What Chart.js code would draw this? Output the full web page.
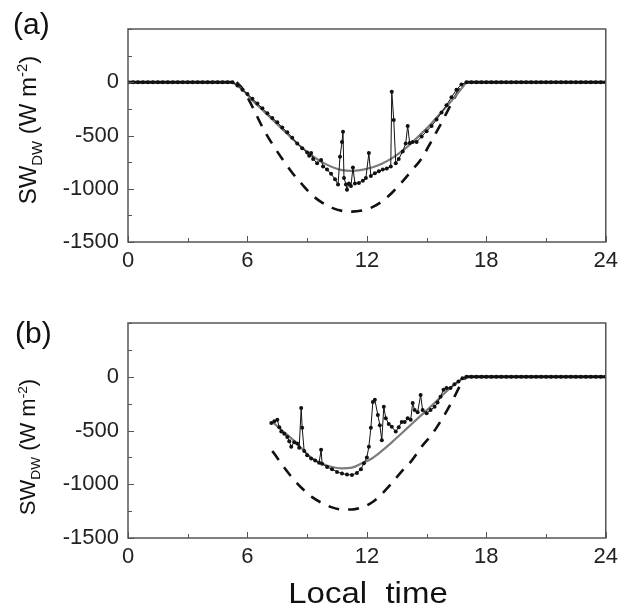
<!DOCTYPE html>
<html lang="en">
<head>
<meta charset="UTF-8">
<title>SW DW</title>
<script src="https://cdn.jsdelivr.net/npm/chart.js"></script>
<style>
  body { margin: 0; background: #fff; }
  #wrap { position: relative; width: 624px; height: 608px; font-family: "Liberation Sans", Arial, sans-serif; color: #111; }
  canvas { position: absolute; left: 0; }
  .panel { position: absolute; font-size: 30px; line-height: 30px; }
  .ytitle { position: absolute; left: 28px; line-height: 24px; white-space: nowrap;
            transform: translate(-50%, -50%) rotate(-90deg); }
  .ytitle sub, .ytitle sup { font-size: 0.62em; line-height: 0; }
  #xtitle { position: absolute; left: 368px; top: 578px; font-size: 30px; line-height: 30px; white-space: pre;
            transform: translateX(-50%) scaleX(1.1); }
</style>
</head>
<body>
<div id="wrap">
  <canvas id="chartA" width="624" height="292" style="top:0"></canvas>
  <canvas id="chartB" width="624" height="295" style="top:294px"></canvas>
  <div class="panel" style="left:13px;top:9px">(a)</div>
  <div class="panel" style="left:15px;top:318px">(b)</div>
  <div class="ytitle" style="top:130px;font-size:24px">SW<sub>DW</sub> (W m<sup>-2</sup>)</div>
  <div class="ytitle" style="top:447px;font-size:22px">SW<sub>DW</sub> (W m<sup>-2</sup>)</div>
  <div id="xtitle">Local  time</div>
</div>
<script>
// axis ticks
const xTicks = [0, 6, 12, 18, 24];
const yTicks = [0, -500, -1000, -1500];

// (a) measured
const measATime = [0,0.25,0.5,0.75,1,1.25,1.5,1.75,2,2.25,2.5,2.75,3,3.25,3.5,3.75,4,4.25,4.5,4.75,5,
  5.25,5.5,5.75,6,6.25,6.5,6.75,7,7.25,7.5,7.75,8,8.25,8.5,8.75,9,
  9.1,9.2,9.3,9.5,9.7,9.8,10,10.2,10.4,10.55,
  10.65,10.75,10.8,10.85,10.95,11,11.1,11.2,11.3,11.4,
  11.6,11.8,11.95,12.1,12.2,12.4,12.6,12.8,13,13.2,
  13.25,13.35,13.45,13.6,13.8,13.95,14.05,14.15,14.3,14.5,
  14.75,15,15.25,15.5,15.75,16,16.25,16.5,16.75,17,
  17.25,17.5,17.75,18,18.25,18.5,18.75,19,19.25,19.5,19.75,20,20.25,20.5,20.75,21,21.25,21.5,21.75,22,22.25,22.5,22.75,23,23.25,23.5,23.75,24];
const measAVal = [0,0,0,0,0,0,0,0,0,0,0,0,0,0,0,0,0,0,0,0,0,
  0,-30,-70,-110,-155,-200,-245,-290,-335,-375,-425,-470,-520,-575,-620,-660,
  -690,-665,-720,-760,-730,-790,-820,-860,-910,-960,
  -700,-560,-465,-900,-960,-1010,-950,-975,-800,-950,
  -945,-925,-900,-665,-880,-855,-835,-820,-810,-790,
  -90,-355,-760,-720,-650,-575,-410,-570,-560,-560,
  -510,-460,-410,-350,-285,-215,-140,-70,-20,0,
  0,0,0,0,0,0,0,0,0,0,0,0,0,0,0,0,0,0,0,0,0,0,0,0,0,0,0,0];

// (a) model (grey) and clear sky (dashed)
const modelATime = [5.25,5.75,6.25,6.75,7.25,7.75,8.25,8.75,9.25,9.75,10.25,10.75,11.25,11.75,12.25,12.75,13.25,13.75,14.25,14.75,15.25,15.75,16.25,16.75,17];
const modelAVal = [0,-70,-170,-260,-350,-440,-530,-615,-690,-750,-795,-825,-832,-822,-800,-765,-715,-650,-570,-480,-385,-280,-175,-60,0];
const clearATime = [5.45,5.75,6.25,6.75,7.25,7.75,8.25,8.75,9.25,9.75,10.25,10.75,11.25,11.75,12.25,12.75,13.25,13.75,14.25,14.75,15.25,15.75,16.25,16.75,17];
const clearAVal = [0,-60,-230,-420,-580,-720,-850,-960,-1060,-1130,-1180,-1208,-1215,-1205,-1175,-1120,-1040,-940,-830,-715,-550,-380,-200,-40,0];

// (b) measured
const measBTime = [7.2,7.35,7.5,7.6,7.7,7.85,8,8.1,8.2,8.35,
  8.5,8.6,8.7,8.75,8.85,9,9.2,9.4,9.6,9.7,
  9.75,10,10.25,10.5,10.75,11,11.25,11.5,11.7,11.85,
  12,12.1,12.2,12.3,12.4,12.55,12.65,12.75,12.85,12.95,
  13.1,13.25,13.45,13.6,13.75,13.9,14.05,14.2,14.3,14.4,
  14.55,14.7,14.8,15,15.2,15.4,15.55,15.7,15.85,16,
  16.2,16.4,16.6,16.8,17,
  17.25,17.5,17.75,18,18.25,18.5,18.75,19,19.25,19.5,19.75,20,20.25,20.5,20.75,21,21.25,21.5,21.75,22,22.25,22.5,22.75,23,23.25,23.5,23.75,24];
const measBVal = [-430,-415,-400,-470,-510,-530,-560,-600,-650,-610,
  -620,-660,-290,-475,-690,-730,-760,-780,-800,-680,
  -810,-840,-860,-885,-900,-910,-915,-895,-860,-805,
  -750,-650,-475,-235,-215,-355,-450,-590,-280,-385,
  -440,-465,-510,-470,-420,-420,-385,-400,-245,-310,
  -330,-170,-310,-340,-310,-280,-240,-185,-120,-105,
  -105,-70,-45,-15,0,
  0,0,0,0,0,0,0,0,0,0,0,0,0,0,0,0,0,0,0,0,0,0,0,0,0,0,0,0];

// (b) model (grey) and clear sky (dashed)
const modelBTime = [7.25,7.75,8.25,8.75,9.25,9.75,10.25,10.75,11.25,11.75,12.25,12.75,13.25,13.75,14.25,14.75,15.25,15.75,16.25,16.75,17];
const modelBVal = [-420,-500,-580,-670,-760,-810,-840,-852,-845,-805,-760,-690,-610,-525,-440,-355,-270,-180,-95,-25,0];
const clearBTime = [7.25,7.75,8.25,8.75,9.25,9.75,10.25,10.75,11.25,11.75,12.25,12.75,13.25,13.75,14.25,14.75,15.25,15.75,16.25,16.75,17];
const clearBVal = [-690,-820,-940,-1040,-1120,-1175,-1215,-1235,-1235,-1215,-1170,-1090,-990,-880,-780,-650,-540,-400,-240,-60,0];

const pts = (t, v) => t.map((x, i) => ({ x: x, y: v[i] }));

// box round the plot + inward ticks
const frame = {
  id: 'frame',
  afterDraw(chart) {
    const { ctx, chartArea: a, scales: { x, y } } = chart;
    ctx.save();
    ctx.strokeStyle = '#555';
    ctx.lineWidth = 1.5;
    ctx.strokeRect(a.left, a.top, a.right - a.left, a.bottom - a.top);
    ctx.lineWidth = 1;
    ctx.beginPath();
    x.ticks.forEach(t => {
      const px = Math.round(x.getPixelForValue(t.value)) + 0.5;
      const len = xTicks.includes(t.value) ? 6 : 4;
      ctx.moveTo(px, a.bottom); ctx.lineTo(px, a.bottom - len);
    });
    y.ticks.forEach(t => {
      const py = Math.round(y.getPixelForValue(t.value)) + 0.5;
      const len = yTicks.includes(t.value) ? 6 : 4;
      ctx.moveTo(a.left, py); ctx.lineTo(a.left + len, py);
    });
    ctx.stroke();
    ctx.restore();
  }
};

function makeChart(id, meas, model, clear, xH) {
  const tickFont = { family: 'Liberation Sans', size: 22 };
  return new Chart(document.getElementById(id), {
    type: 'scatter',
    data: {
      datasets: [
        { data: meas, showLine: true, borderColor: '#111', borderWidth: 1, pointRadius: 2,
          pointBackgroundColor: '#111', pointBorderWidth: 0, tension: 0,
          // night-time zeros look like one heavy line in the original
          segment: { borderWidth: c => (c.p0.parsed.y === 0 && c.p1.parsed.y === 0) ? 3 : 1 } },
        { data: model, showLine: true, borderColor: '#7c7c7c', borderWidth: 2.2, pointRadius: 0,
          cubicInterpolationMode: 'monotone' },
        { data: clear, showLine: true, borderColor: '#111', borderWidth: 2.6, borderDash: [11, 9],
          pointRadius: 0, cubicInterpolationMode: 'monotone' }
      ]
    },
    options: {
      responsive: false,
      devicePixelRatio: 1,
      animation: false,
      layout: { padding: { left: 0, top: 29, right: 15, bottom: 0 } },
      plugins: { legend: { display: false }, tooltip: { enabled: false } },
      scales: {
        x: {
          type: 'linear', min: 0, max: 24,
          grid: { display: false, drawTicks: false },
          border: { display: false },
          ticks: { stepSize: 3, autoSkip: false, maxRotation: 0, padding: 6, color: '#222', font: tickFont,
                   callback: v => xTicks.includes(v) ? String(v) : '' },
          afterFit: s => { s.height = xH; }
        },
        y: {
          min: -1500, max: 500,
          grid: { display: false, drawTicks: false },
          border: { display: false },
          ticks: { stepSize: 250, autoSkip: false, padding: 9, color: '#222', font: tickFont,
                   callback: v => yTicks.includes(v) ? String(v) : '' },
          afterFit: s => { s.width = 128; }
        }
      }
    },
    plugins: [frame]
  });
}

makeChart('chartA', pts(measATime, measAVal), pts(modelATime, modelAVal), pts(clearATime, clearAVal), 50);
makeChart('chartB', pts(measBTime, measBVal), pts(modelBTime, modelBVal), pts(clearBTime, clearBVal), 51);
</script>
</body>
</html>
